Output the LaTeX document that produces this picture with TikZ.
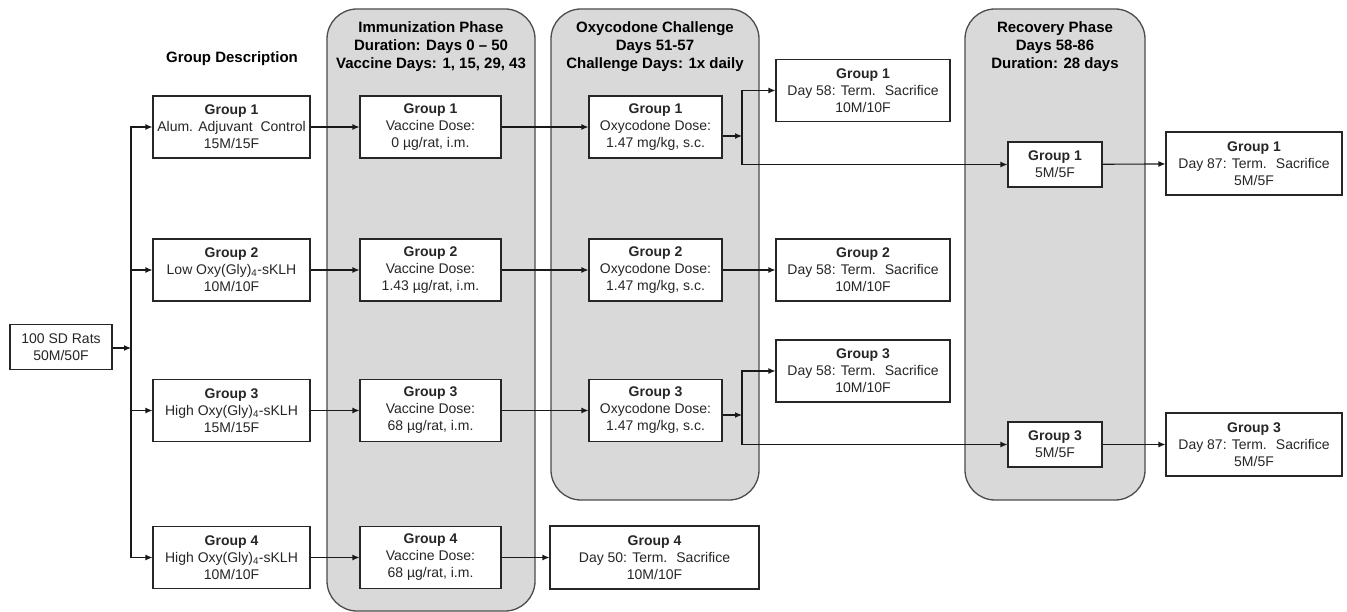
\documentclass[tikz,border=0pt]{standalone}
\usepackage{fontspec}
\setmainfont{Liberation Sans}
\usetikzlibrary{arrows.meta,calc}
\begin{document}
\begin{tikzpicture}[x=1pt,y=-1pt,
  box/.style={draw=black!85,line width=1.1pt,fill=white,align=center,inner sep=0pt,
    font=\fontsize{14}{17}\selectfont,text=black!85},
  panel/.style={draw=black!70,line width=1.3pt,fill=black!15,rounded corners=30pt},
  ptitle/.style={align=center,font=\bfseries\fontsize{15}{18}\selectfont},
  arr/.style={line width=1.1pt,draw=black!90,-{Latex[length=7pt,width=6pt]}},
  ln/.style={line width=1.1pt,draw=black!90}]
\useasboundingbox (0,0) rectangle (1347,612);

% phase panels
\draw[panel] (327,9) rectangle (535,611);
\draw[panel] (551,9) rectangle (759,500);
\draw[panel] (965,9) rectangle (1145,500);

% titles
\node[ptitle] (tgd) at (232,59) {Group Description};
\node[ptitle] (timm) at (431,46.5) {Immunization Phase\\Duration: Days 0 -- 50\\Vaccine Days: 1, 15, 29, 43};
\node[ptitle] (toxy) at (655,46.5) {Oxycodone Challenge\\Days 51-57\\Challenge Days: 1x daily};
\node[ptitle] (trec) at (1055,46.5) {Recovery Phase\\Days 58-86\\Duration: 28 days};

% start
\node[box,minimum width=102pt,minimum height=45pt] (rats) at (61,347) {100 SD Rats\\50M/50F};

% group description
\tikzset{desc/.style={box,minimum width=157pt,minimum height=62pt}}
\node[desc] (d1) at (231.5,127) {\textbf{Group 1}\\Alum. Adjuvant~ Control\\15M/15F};
\node[desc] (d2) at (231.5,270) {\textbf{Group 2}\\Low Oxy(Gly)\textsubscript{4}-sKLH\\10M/10F};
\node[desc] (d3) at (231.5,410.5) {\textbf{Group 3}\\High Oxy(Gly)\textsubscript{4}-sKLH\\15M/15F};
\node[desc] (d4) at (231.5,557.5) {\textbf{Group 4}\\High Oxy(Gly)\textsubscript{4}-sKLH\\10M/10F};

% immunization
\tikzset{immb/.style={box,minimum width=141pt,minimum height=62pt}}
\node[immb] (i1) at (430.5,127) {\textbf{Group 1}\\Vaccine Dose:\\0 µg/rat, i.m.};
\node[immb] (i2) at (430.5,270) {\textbf{Group 2}\\Vaccine Dose:\\1.43 µg/rat, i.m.};
\node[immb] (i3) at (430.5,410.5) {\textbf{Group 3}\\Vaccine Dose:\\68 µg/rat, i.m.};
\node[immb] (i4) at (430.5,557.5) {\textbf{Group 4}\\Vaccine Dose:\\68 µg/rat, i.m.};

% oxycodone
\tikzset{oxyb/.style={box,minimum width=133pt,minimum height=62pt}}
\node[oxyb] (o1) at (655.5,127) {\textbf{Group 1}\\Oxycodone Dose:\\1.47 mg/kg, s.c.};
\node[oxyb] (o2) at (655.5,270) {\textbf{Group 2}\\Oxycodone Dose:\\1.47 mg/kg, s.c.};
\node[oxyb] (o3) at (655.5,410.5) {\textbf{Group 3}\\Oxycodone Dose:\\1.47 mg/kg, s.c.};
\node[box,minimum width=209pt,minimum height=63pt] (s4) at (654.5,557.5) {\textbf{Group 4}\\Day 50: Term.~ Sacrifice\\10M/10F};

% day 58 sacrifice
\tikzset{sacb/.style={box,minimum width=174pt,minimum height=62pt}}
\node[sacb] (s1) at (863,90.5) {\textbf{Group 1}\\Day 58: Term.~ Sacrifice\\10M/10F};
\node[sacb] (s2) at (863,270) {\textbf{Group 2}\\Day 58: Term.~ Sacrifice\\10M/10F};
\node[sacb] (s3) at (863,371) {\textbf{Group 3}\\Day 58: Term.~ Sacrifice\\10M/10F};

% recovery
\tikzset{recb/.style={box,minimum width=94pt,minimum height=45pt}}
\node[recb] (r1) at (1055,164.5) {\textbf{Group 1}\\5M/5F};
\node[recb] (r3) at (1055,444.5) {\textbf{Group 3}\\5M/5F};

% final
\tikzset{finb/.style={box,minimum width=176pt,minimum height=63pt}}
\node[finb] (f1) at (1254,163.5) {\textbf{Group 1}\\Day 87: Term.~ Sacrifice\\5M/5F};
\node[finb] (f3) at (1254,444.5) {\textbf{Group 3}\\Day 87: Term.~ Sacrifice\\5M/5F};

% connectors
\coordinate (sp) at (131,348);
\coordinate (b1) at (742,136);
\coordinate (b3) at (742,415);

\draw[arr] (rats.east |- sp) -- (sp);
\draw[arr] (sp) |- (d1.west);
\draw[arr] (sp) |- (d2.west);
\draw[arr] (sp) |- (d3.west);
\draw[arr] (sp) |- (d4.west);

\draw[arr] (d1) -- (i1);
\draw[arr] (d2) -- (i2);
\draw[arr] (d3) -- (i3);
\draw[arr] (d4) -- (i4);

\draw[arr] (i1) -- (o1);
\draw[arr] (i2) -- (o2);
\draw[arr] (i3) -- (o3);
\draw[arr] (i4) -- (s4);

\draw[arr] (o2) -- (s2);

\draw[arr] (o1.east |- b1) -- (b1);
\draw[arr] (b1) |- (s1.west);
\draw[arr] (b1) |- (r1.west);
\draw[arr] (o3.east |- b3) -- (b3);
\draw[arr] (b3) |- (s3.west);
\draw[arr] (b3) |- (r3.west);

\draw[arr] (r1) -- (f1);
\draw[arr] (r3) -- (f3);
\end{tikzpicture}
\end{document}
